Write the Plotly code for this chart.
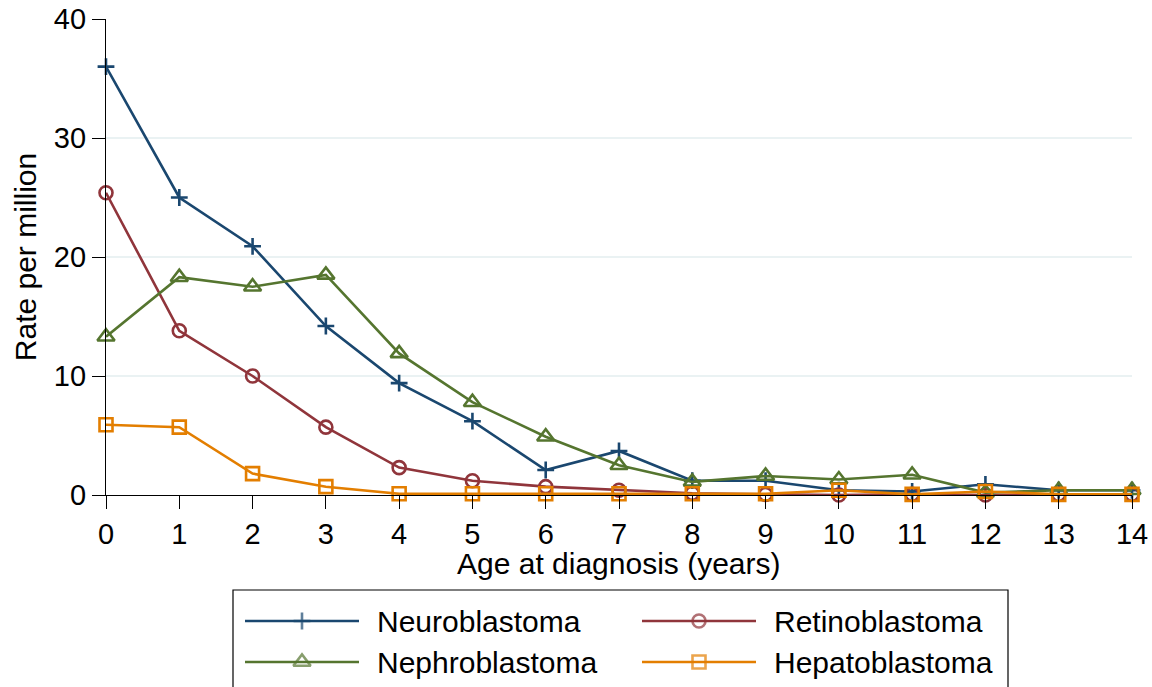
import plotly.graph_objects as go

# Incidence of embryonal tumours by single year of age
ages = list(range(15))
neuroblastoma = [36.0, 25.0, 20.9, 14.2, 9.4, 6.2, 2.1, 3.7, 1.2, 1.2, 0.4, 0.3, 0.9, 0.4, 0.4]
retinoblastoma = [25.4, 13.8, 10.0, 5.7, 2.3, 1.2, 0.7, 0.4, 0.15, 0.05, 0.0, 0.05, 0.0, 0.05, 0.05]
nephroblastoma = [13.3, 18.3, 17.5, 18.5, 11.9, 7.8, 4.9, 2.5, 1.1, 1.6, 1.3, 1.7, 0.2, 0.4, 0.4]
hepatoblastoma = [5.9, 5.7, 1.8, 0.7, 0.1, 0.1, 0.1, 0.1, 0.1, 0.1, 0.4, 0.05, 0.3, 0.05, 0.05]

series_names = ["Neuroblastoma", "Retinoblastoma", "Nephroblastoma", "Hepatoblastoma"]
series_values = [neuroblastoma, retinoblastoma, nephroblastoma, hepatoblastoma]
y_ticks = [0, 10, 20, 30, 40]
x_ticks = ages

W, H = 1152, 687
FONT = "Liberation Sans, Arial, Helvetica, sans-serif"
LW = 2.6

styles = {
    "Neuroblastoma": dict(color="#1a476f", symbol="cross-thin-open", size=12),
    "Retinoblastoma": dict(color="#90353b", symbol="circle-open", size=13),
    "Nephroblastoma": dict(color="#55752f", symbol="triangle-up-open", size=15),
    "Hepatoblastoma": dict(color="#e37e00", symbol="square-open", size=13),
}

# plot region in pixels
PL, PR, PT, PB = 106, 1132, 19, 495

fig = go.Figure()

for name, vals in zip(series_names, series_values):
    st = styles[name]
    fig.add_trace(go.Scatter(
        x=ages, y=vals, name=name, mode="lines+markers",
        line=dict(color=st["color"], width=LW),
        marker=dict(symbol=st["symbol"], size=st["size"], color=st["color"],
                    line=dict(color=st["color"], width=LW)),
        cliponaxis=False, showlegend=False,
    ))

# legend drawn on an overlay axis measured in pixels
LEG_ROWS = [621, 662]
LEG_COLS = [245, 642]
SAMPLE_LEN = 114
TEXT_GAP = 16
for i, name in enumerate(series_names):
    st = styles[name]
    x0 = LEG_COLS[i % 2]
    yr = LEG_ROWS[i // 2]
    fig.add_trace(go.Scatter(
        x=[x0, x0 + SAMPLE_LEN / 2, x0 + SAMPLE_LEN], y=[yr, yr, yr],
        mode="lines+markers", xaxis="x2", yaxis="y2",
        line=dict(color=st["color"], width=LW),
        marker=dict(symbol=st["symbol"], size=[0, st["size"], 0], color=st["color"],
                    line=dict(color=st["color"], width=LW)),
        cliponaxis=False, showlegend=False, hoverinfo="skip",
    ))
    fig.add_annotation(
        x=(x0 + SAMPLE_LEN + TEXT_GAP) / W, y=1 - yr / H, xref="paper", yref="paper",
        text=name, showarrow=False, xanchor="left", yanchor="middle",
        font=dict(size=30, color="black", family=FONT),
    )

# x-axis title
fig.add_annotation(
    x=(PL + PR) / 2 / W, y=1 - 563 / H, xref="paper", yref="paper",
    text="Age at diagnosis (years)", showarrow=False, xanchor="center", yanchor="middle",
    font=dict(size=30, color="black", family=FONT),
)

fig.add_shape(type="rect", xref="paper", yref="paper",
              x0=233 / W, x1=1008 / W, y0=-0.05, y1=1 - 590 / H,
              line=dict(color="black", width=1.2), fillcolor="rgba(0,0,0,0)")

fig.update_layout(
    width=W, height=H,
    margin=dict(l=0, r=0, t=0, b=0),
    paper_bgcolor="white", plot_bgcolor="rgba(0,0,0,0)",
    font=dict(family=FONT, color="black"),
    xaxis=dict(
        domain=[PL / W, PR / W], range=[0, 14], tickvals=x_ticks,
        ticks="outside", ticklen=13, tickwidth=1.2, tickcolor="black",
        tickfont=dict(size=29), showgrid=False, zeroline=False,
        showline=True, linecolor="black", linewidth=1.2,
        automargin=False, anchor="y",
    ),
    yaxis=dict(
        domain=[1 - PB / H, 1 - PT / H], range=[0, 40], tickvals=y_ticks,
        ticks="outside", ticklen=13, tickwidth=1.2, tickcolor="black",
        tickfont=dict(size=29), showgrid=True, gridcolor="#eaf2f3", gridwidth=1.5,
        zeroline=False, showline=True, linecolor="black", linewidth=1.2,
        title=dict(text="Rate per million", font=dict(size=30), standoff=8),
        automargin=False, anchor="x",
    ),
    xaxis2=dict(domain=[0, 1], range=[0, W], visible=False, anchor="y2"),
    yaxis2=dict(domain=[0, 1], range=[H, 0], visible=False, anchor="x2"),
)

fig.write_html("out.html")
